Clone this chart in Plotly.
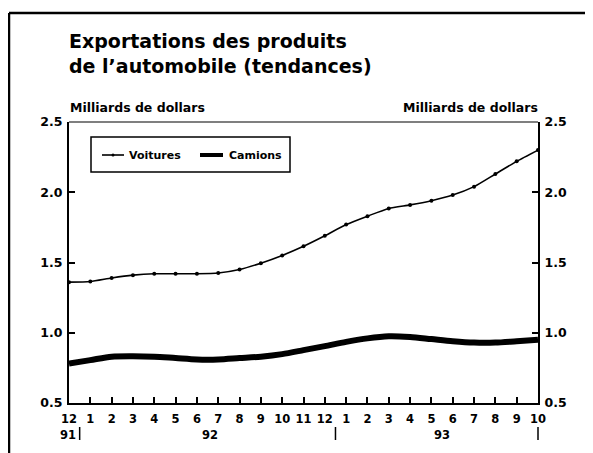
import plotly.graph_objects as go

months = ["12", "1", "2", "3", "4", "5", "6", "7", "8", "9", "10", "11", "12",
          "1", "2", "3", "4", "5", "6", "7", "8", "9", "10"]
voitures = [1.36, 1.365, 1.39, 1.41, 1.42, 1.42, 1.42, 1.425, 1.45, 1.495, 1.55, 1.615, 1.69,
            1.77, 1.83, 1.885, 1.91, 1.94, 1.98, 2.04, 2.13, 2.22, 2.30]
camions = [0.78, 0.805, 0.83, 0.833, 0.83, 0.82, 0.81, 0.81, 0.82, 0.83, 0.848, 0.876, 0.905,
           0.935, 0.96, 0.975, 0.97, 0.955, 0.94, 0.93, 0.93, 0.94, 0.95]
years = ["91", "92", "93"]
year_pos = [-0.05, 6.6, 17.5]      # month index where each year label sits
year_bars = [0.5, 12.5, 22]         # year separators (month index)
yticks = [0.5, 1.0, 1.5, 2.0, 2.5]
series_names = ["Voitures", "Camions"]
unit_label = "Milliards de dollars"
title = "Exportations des produits<br>de l’automobile (tendances)"

x = list(range(len(months)))
FONT = "DejaVu Sans, Verdana, sans-serif"

# page is rendered with an 8px body margin: work in page pixels, convert to figure
OFF = 8
W, H = 593 - OFF, 453 - OFF
L, R, T, B = 69 - OFF, 538 - OFF, 122 - OFF, 403 - OFF
pw, ph = R - L, B - T
NX = len(months) - 1


def px_x(p):
    return (p - OFF - L) / pw


def px_y(p):
    return (B - (p - OFF)) / ph


def idx_x(i):
    return i / NX


fig = go.Figure()
fig.add_trace(go.Scatter(x=x, y=voitures, name=series_names[0], mode="lines+markers",
                         line=dict(color="black", width=1.6, shape="spline", smoothing=0.6),
                         marker=dict(color="black", size=4), showlegend=False))
fig.add_trace(go.Scatter(x=x, y=camions, name=series_names[1], mode="lines",
                         line=dict(color="black", width=6, shape="spline", smoothing=0.8),
                         showlegend=False))
fig.add_trace(go.Scatter(x=x, y=voitures, yaxis="y2", mode="lines", showlegend=False,
                         line=dict(color="rgba(0,0,0,0)"), hoverinfo="skip"))

tickfont = dict(size=12.5, family=FONT, weight="bold", color="black")
fig.update_layout(
    width=W, height=H,
    margin=dict(l=L, r=W - R, t=T, b=H - B, pad=0),
    paper_bgcolor="white", plot_bgcolor="white",
    font=dict(family=FONT, color="black", size=12),
    showlegend=False,
    xaxis=dict(range=[0, NX], tickvals=x, ticktext=months, ticks="inside", ticklen=6,
               tickwidth=1.5, tickcolor="black", showline=True, linecolor="black", linewidth=2,
               showgrid=False, zeroline=False, ticklabelstandoff=4,
               tickfont=dict(size=11.5, family=FONT, weight="bold", color="black")),
    yaxis=dict(range=[0.5, 2.5], tickvals=yticks, tickformat=".1f", ticks="inside", ticklen=6,
               tickwidth=1.5, tickcolor="black", showline=True, linecolor="black", linewidth=2,
               showgrid=False, zeroline=False, ticklabelstandoff=2, tickfont=tickfont),
    yaxis2=dict(range=[0.5, 2.5], tickvals=yticks, tickformat=".1f", ticks="inside", ticklen=6,
                tickwidth=1.5, tickcolor="black", showline=True, linecolor="black", linewidth=2,
                showgrid=False, zeroline=False, overlaying="y", side="right",
                ticklabelstandoff=2, tickfont=tickfont),
)

shapes = []
# top border of plot area
shapes.append(dict(type="line", xref="paper", yref="paper", x0=0, x1=1, y0=1, y1=1,
                   line=dict(color="black", width=1.2)))
# outer frame (left and top edges)
shapes.append(dict(type="line", xref="paper", yref="paper", x0=px_x(9), x1=px_x(600),
                   y0=px_y(13), y1=px_y(13), line=dict(color="black", width=2.5)))
shapes.append(dict(type="line", xref="paper", yref="paper", x0=px_x(9), x1=px_x(9),
                   y0=px_y(13), y1=px_y(460), line=dict(color="black", width=2.5)))
# year separators
for xb in year_bars:
    shapes.append(dict(type="line", xref="paper", yref="paper", x0=idx_x(xb), x1=idx_x(xb),
                       y0=px_y(427), y1=px_y(440), line=dict(color="black", width=1.5)))

# legend box (hand-built to match the original)
shapes.append(dict(type="rect", xref="paper", yref="paper", x0=px_x(91), x1=px_x(290),
                   y0=px_y(137), y1=px_y(172), line=dict(color="black", width=1.5),
                   fillcolor="white"))
ly = px_y(155)
shapes.append(dict(type="line", xref="paper", yref="paper", x0=px_x(102), x1=px_x(124),
                   y0=ly, y1=ly, line=dict(color="black", width=1.6)))
shapes.append(dict(type="circle", xref="paper", yref="paper", x0=px_x(111.5), x1=px_x(114.5),
                   y0=px_y(156.5), y1=px_y(153.5), fillcolor="black", line=dict(width=0)))
shapes.append(dict(type="line", xref="paper", yref="paper", x0=px_x(200), x1=px_x(223),
                   y0=ly, y1=ly, line=dict(color="black", width=4)))
fig.update_layout(shapes=shapes)

annos = []
for name, xp in zip(series_names, [127, 227]):
    annos.append(dict(x=px_x(xp), y=ly, xref="paper", yref="paper", xanchor="left",
                      yanchor="middle", text=name, showarrow=False,
                      font=dict(size=11, family=FONT, weight="bold", color="black")))
for yr, xp in zip(years, year_pos):
    annos.append(dict(x=idx_x(xp), y=px_y(435), xref="paper", yref="paper", text=yr,
                      showarrow=False, xanchor="center", yanchor="middle",
                      font=dict(size=11.5, family=FONT, weight="bold", color="black")))
annos.append(dict(x=px_x(67), y=px_y(28), xref="paper", yref="paper", xanchor="left",
                  yanchor="top", text=title, align="left", showarrow=False,
                  font=dict(size=19, family=FONT, weight="bold", color="black")))
annos.append(dict(x=px_x(68), y=px_y(108), xref="paper", yref="paper", xanchor="left",
                  yanchor="middle", text=unit_label, showarrow=False,
                  font=dict(size=12.5, family=FONT, weight="bold", color="black")))
annos.append(dict(x=px_x(540), y=px_y(108), xref="paper", yref="paper", xanchor="right",
                  yanchor="middle", text=unit_label, showarrow=False,
                  font=dict(size=12.5, family=FONT, weight="bold", color="black")))
fig.update_layout(annotations=annos)

fig.write_html("out.html")
